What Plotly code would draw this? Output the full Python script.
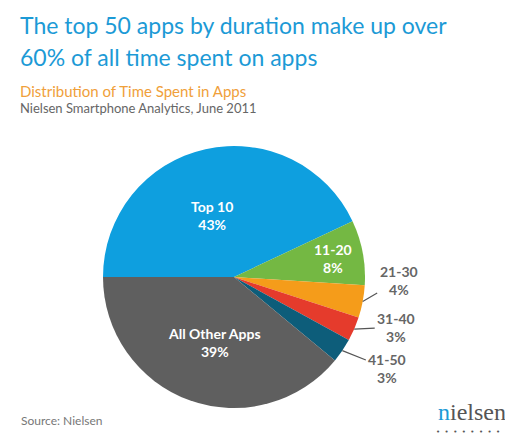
import math
import plotly.graph_objects as go

# ---- data ----
labels = ["Top 10", "11-20", "21-30", "31-40", "41-50", "All Other Apps"]
values = [43, 8, 4, 3, 3, 39]
colors = ["#0e9fdf", "#74b843", "#f59c1a", "#e53b2c", "#0d5d7a", "#5f5f5f"]
inside = [True, True, False, False, False, True]

title_lines = ["The top 50 apps by duration make up over", "60% of all time spent on apps"]
subtitle = "Distribution of Time Spent in Apps"
subsubtitle = "Nielsen Smartphone Analytics, June 2011"
source = "Source: Nielsen"

# ---- layout constants (pixels) ----
W, H = 513, 438
CX, CY, R = 226, 269, 131
FONT = "Lato"

def px(x):
    return x / W

def py(y):
    return 1 - y / H

fig = go.Figure()
fig.add_trace(go.Pie(
    labels=labels,
    values=values,
    sort=False,
    direction="clockwise",
    rotation=-90,
    marker=dict(colors=colors, line=dict(width=0)),
    textinfo="none",
    hoverinfo="label+percent",
    showlegend=False,
    domain=dict(x=[px(CX - R), px(CX + R)], y=[py(CY + R), py(CY - R)]),
))

annotations = []
# label placement style: inside radius fraction / outside pixel offsets
inside_r = {"Top 10": 0.5, "11-20": 0.77, "All Other Apps": 0.55}
inside_shift = {"Top 10": (-8, 2), "11-20": (0, 0), "All Other Apps": (5, -2)}
offsets = {"21-30": (36, -21), "31-40": (42, -2), "41-50": (45, 18)}
total = sum(values)
cum = 0
for lab, v, s in zip(labels, values, inside):
    mid = 180 - (cum + v / 2) / total * 360  # degrees, clockwise from 9 o'clock
    cum += v
    c, sn = math.cos(math.radians(mid)), math.sin(math.radians(mid))
    if s:
        rr = inside_r[lab] * R
        dx, dy = inside_shift[lab]
        annotations.append(dict(
            x=px(CX + rr * c + dx), y=py(CY - rr * sn + dy),
            xanchor="center", yanchor="middle",
            text=f"<b>{lab}<br>{v}%</b>", showarrow=False,
            font=dict(family=FONT, size=14, color="white"), align="center",
        ))
        continue
    ex = CX + R * c
    ey = CY - R * sn
    ax, ay = offsets[lab]
    annotations.append(dict(
        x=px(ex), y=py(ey),
        text=f"<b>{lab}<br>{v}%</b>", showarrow=True, arrowhead=0,
        arrowwidth=1.2, arrowcolor="#555555", ax=ax, ay=ay,
        font=dict(family=FONT, size=14, color="#666666"), borderpad=2,
        align="center",
    ))

dots = "\u2022\u00a0\u00a0" * 8 + "\u2022"
annotations += [
    dict(x=px(10), y=py(17), text=title_lines[0], xanchor="left", yanchor="middle",
         font=dict(family=FONT, size=23, color="#1c9ad6")),
    dict(x=px(10), y=py(49), text=title_lines[1], xanchor="left", yanchor="middle",
         font=dict(family=FONT, size=23, color="#1c9ad6")),
    dict(x=px(10), y=py(83), text=subtitle, xanchor="left", yanchor="middle",
         font=dict(family=FONT, size=15, color="#f0a03a")),
    dict(x=px(10), y=py(100), text=subsubtitle, xanchor="left", yanchor="middle",
         font=dict(family=FONT, size=13, color="#666666")),
    dict(x=px(11), y=py(412), text=source, xanchor="left", yanchor="middle",
         font=dict(family=FONT, size=12, color="#777777")),
    dict(x=px(500), y=py(404), xanchor="right", yanchor="middle",
         text="<span style='color:#1c9ad6'>n</span>ielsen",
         font=dict(family="Liberation Serif", size=24, color="#555555")),
    dict(x=px(464), y=py(424), xanchor="center", yanchor="middle",
         text=dots,
         font=dict(family="DejaVu Sans", size=7, color="#555555")),
]
for a in annotations:
    a.setdefault("xref", "paper")
    a.setdefault("yref", "paper")
    a.setdefault("showarrow", False)

fig.update_layout(
    width=W, height=H,
    margin=dict(l=0, r=0, t=0, b=0),
    paper_bgcolor="white", plot_bgcolor="white",
    annotations=annotations,
)
fig.write_html("out.html")
